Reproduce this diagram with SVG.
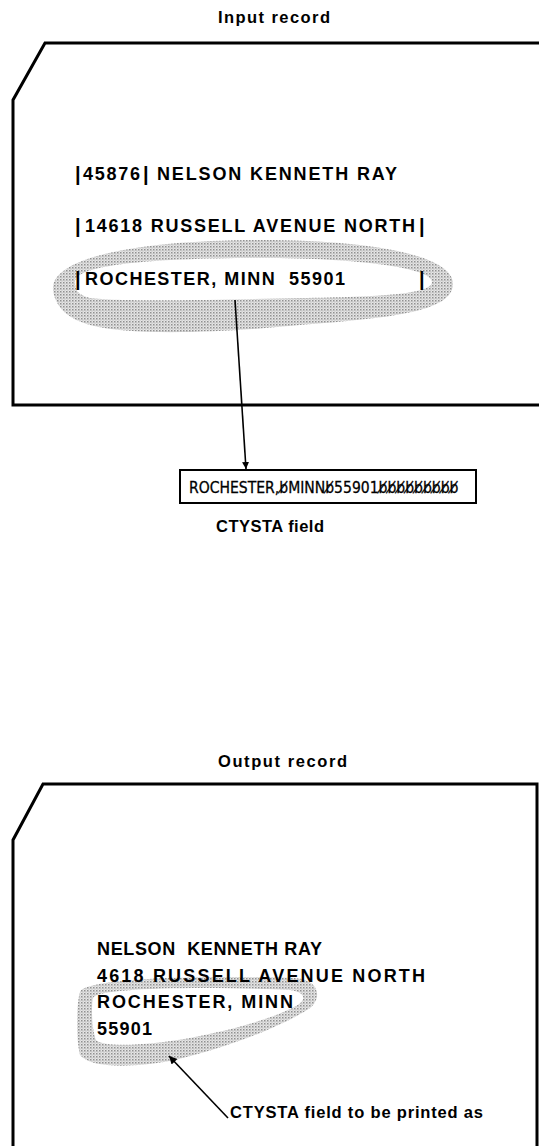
<svg xmlns="http://www.w3.org/2000/svg" width="539" height="1146" viewBox="0 0 539 1146">
<style>
.t{font-family:"Liberation Sans",Arial,sans-serif;font-size:18px;font-weight:bold;fill:#000}
.lbl{font-family:"Liberation Sans",Arial,sans-serif;font-size:16.5px;font-weight:bold;fill:#000}
.bx{font-family:"DejaVu Sans",sans-serif;font-size:16px;fill:#000;stroke:#000;stroke-width:0.3}
.bar{font-family:"Liberation Sans",Arial,sans-serif;font-size:20px;font-weight:bold;fill:#000}
.card{fill:none;stroke:#000;stroke-width:3;stroke-linejoin:miter}
.conn{fill:none;stroke:#000;stroke-width:1.6}
.blob{fill:url(#dots);fill-rule:evenodd}
</style>
<defs>
<pattern id="dots" width="3" height="3" patternUnits="userSpaceOnUse">
<rect width="3" height="3" fill="#e6e6e6"/>
<rect width="1.5" height="1.5" fill="#909090"/>
<rect x="1.5" y="1.5" width="1" height="1" fill="#a8a8a8"/>
</pattern>
<marker id="ah" viewBox="0 0 10 10" refX="10" refY="5" markerWidth="7" markerHeight="7" markerUnits="userSpaceOnUse" orient="auto">
<path d="M0,0 L10,5 L0,10 Z" fill="#000"/>
</marker>
<marker id="ah2" viewBox="0 0 10 10" refX="10" refY="5" markerWidth="10" markerHeight="8" markerUnits="userSpaceOnUse" orient="auto">
<path d="M0,0 L10,5 L0,10 Z" fill="#000"/>
</marker>
</defs>

<g id="input-record">
<text class="lbl" x="218" y="23" textLength="112" lengthAdjust="spacing">Input record</text>
<path class="card" d="M539,43 L45,43 L13,100 L13,405 L539,405"/>
<path class="blob" d="M53,290 C50,255 150,240 260,240 C370,240 455,255 453,285 C451,312 390,318 300,325 C220,333 130,336 90,325 C65,318 55,305 53,290 Z M75,282 C75,265 150,258 260,258 C360,258 432,268 432,282 C432,294 380,297 300,298 C220,300 120,302 90,298 C78,295 75,290 75,282 Z"/>
<text class="bar" x="75" y="181">|</text>
<text class="t" x="83" y="180" textLength="57" lengthAdjust="spacing">45876</text>
<text class="bar" x="143" y="181">|</text>
<text class="t" x="157" y="180" textLength="240" lengthAdjust="spacing">NELSON KENNETH RAY</text>
<text class="bar" x="75" y="233">|</text>
<text class="t" x="85" y="232" textLength="330" lengthAdjust="spacing">14618 RUSSELL AVENUE NORTH</text>
<text class="bar" x="419" y="233">|</text>
<text class="bar" x="75" y="286">|</text>
<text class="t" x="85" y="285" textLength="260" lengthAdjust="spacing" xml:space="preserve">ROCHESTER, MINN  55901</text>
<text class="bar" x="419" y="286">|</text>
</g>

<g id="ctysta-field">
<rect x="180" y="470" width="296" height="33" fill="none" stroke="#000" stroke-width="2"/>
<text class="bx" transform="translate(189,493) scale(0.875,1)">ROCHESTER,b̸MINNb̸55901b̸b̸b̸b̸b̸b̸b̸b̸b̸</text>
<text class="lbl" x="216" y="532" textLength="108" lengthAdjust="spacing">CTYSTA field</text>
</g>

<g id="output-record">
<text class="lbl" x="218" y="767" textLength="129" lengthAdjust="spacing">Output record</text>
<path class="card" d="M537,1146 L537,784 L43,784 L13,840 L13,1146"/>
<path class="blob" d="M80,992 C84,978 200,975 295,978 C320,980 322,998 310,1008 C280,1028 220,1050 170,1061 C130,1068 90,1068 80,1055 C76,1040 76,1005 80,992 Z M93,998 C96,988 200,986 290,990 C306,992 307,1000 296,1006 C270,1020 230,1030 190,1038 C150,1045 105,1048 96,1040 C92,1030 91,1008 93,998 Z"/>
<text class="t" x="97" y="955" textLength="225" lengthAdjust="spacing" xml:space="preserve">NELSON  KENNETH RAY</text>
<text class="t" x="97" y="982" textLength="328" lengthAdjust="spacing">4618 RUSSELL AVENUE NORTH</text>
<text class="t" x="97" y="1008" textLength="196" lengthAdjust="spacing">ROCHESTER, MINN</text>
<text class="t" x="97" y="1035" textLength="55" lengthAdjust="spacing">55901</text>
<text class="lbl" x="230" y="1118" textLength="253" lengthAdjust="spacing">CTYSTA field to be printed as</text>
</g>

<g id="connectors">
<path class="conn" d="M235,300 L246,469" marker-end="url(#ah)"/>
<path class="conn" d="M228,1118 L169,1056" marker-end="url(#ah2)"/>
</g>
</svg>
